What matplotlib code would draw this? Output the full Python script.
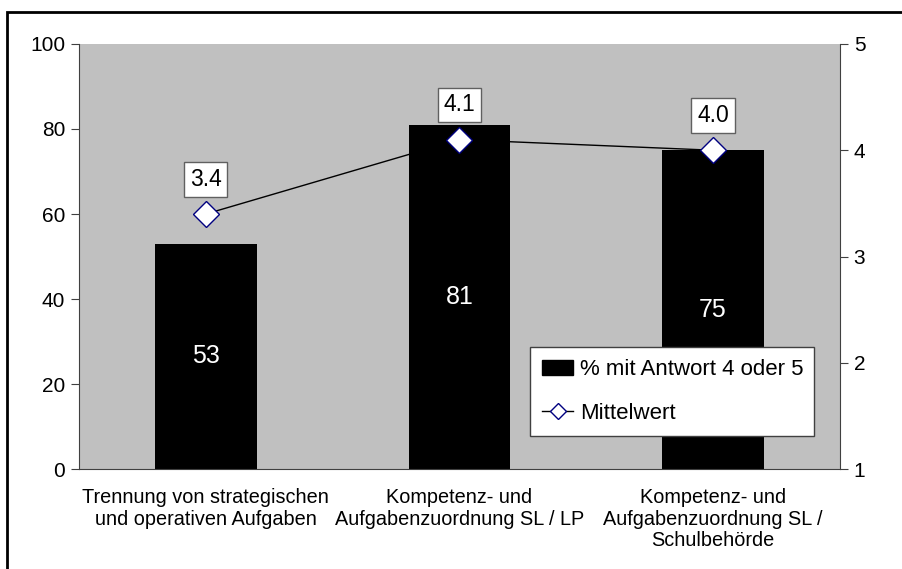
import matplotlib.pyplot as plt
import matplotlib.patches as mpatches
from matplotlib.lines import Line2D
import numpy as np

plt.rcParams["font.family"] = ["Liberation Sans", "DejaVu Sans"]

categories = [
    "Trennung von strategischen\nund operativen Aufgaben",
    "Kompetenz- und\nAufgabenzuordnung SL / LP",
    "Kompetenz- und\nAufgabenzuordnung SL /\nSchulbehörde",
]
pct_4_or_5 = [53, 81, 75]
mean_values = [3.4, 4.1, 4.0]

axis_col = "#404040"

fig = plt.figure(figsize=(9.03, 5.69), dpi=100)
ax = fig.add_axes([0.0875, 0.1757, 0.8425, 0.747])
ax.set_facecolor("#C0C0C0")

x = np.arange(len(categories))
ax.bar(x, pct_4_or_5, width=0.4, color="black", zorder=2)
for xi, v in zip(x, pct_4_or_5):
    ax.text(xi, v / 2, f"{v}", color="white", ha="center", va="center",
            fontsize=18, zorder=3)

ax.set_xlim(-0.5, len(categories) - 0.5)
ax.set_ylim(0, 100)
ax.set_yticks(range(0, 101, 20))
ax.set_xticks(x)
ax.set_xticklabels(categories, fontsize=14.3, linespacing=1.15)
ax.tick_params(axis="x", length=0, pad=14)
ax.tick_params(axis="y", labelsize=15, length=6, color=axis_col, pad=4)
for side in ["top", "right"]:
    ax.spines[side].set_visible(False)
for side in ["left", "bottom"]:
    ax.spines[side].set_color(axis_col)

# mean values on the secondary axis
ax2 = ax.twinx()
ax2.plot(x, mean_values, color="black", lw=1, marker="D", markersize=13.5,
         markerfacecolor="white", markeredgecolor="#000080",
         markeredgewidth=1, zorder=4)
for xi, m in zip(x, mean_values):
    ax2.annotate(f"{m:.1f}", (xi, m), xytext=(0, 25), textcoords="offset points",
                 ha="center", va="center", fontsize=16.5,
                 bbox=dict(boxstyle="square,pad=0.25", fc="white", ec="#606060", lw=1))
ax2.set_ylim(1, 5)
ax2.set_yticks(range(1, 6))
ax2.tick_params(axis="y", labelsize=15, length=6, color=axis_col, pad=4)
for side in ["top", "left", "bottom"]:
    ax2.spines[side].set_visible(False)
ax2.spines["right"].set_color(axis_col)

handles = [
    mpatches.Rectangle((0, 0), 1, 1, color="black"),
    Line2D([0], [0], color="black", lw=1, marker="D", markersize=8,
           markerfacecolor="white", markeredgecolor="#000080"),
]
leg = ax2.legend(handles, ["% mit Antwort 4 oder 5", "Mittelwert"],
                 loc="lower left", bbox_to_anchor=(0.593, 0.078, 0.373, 0.207),
                 mode="expand", fontsize=16, fancybox=False, framealpha=1,
                 edgecolor="#404040", handlelength=1.4, handletextpad=0.3,
                 borderpad=0.55, labelspacing=1.0, borderaxespad=0)
leg.get_frame().set_linewidth(1)

# outer chart frame
fig.patches.append(mpatches.Rectangle((7 / 903, -0.1), 2, (569 - 12) / 569 + 0.1,
                                      transform=fig.transFigure, fill=False,
                                      ec="black", lw=2))

fig.savefig("out.png", dpi=100)
